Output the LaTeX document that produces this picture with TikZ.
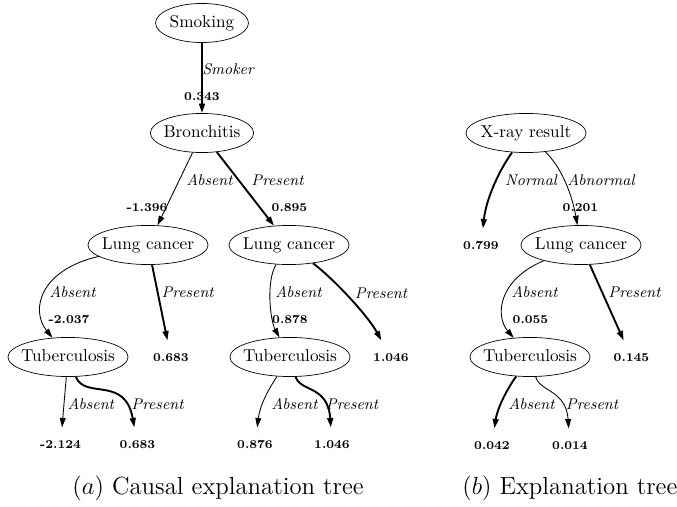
\documentclass[tikz,border=0pt]{standalone}
\usetikzlibrary{arrows.meta,shapes.geometric}

\begin{document}
\begin{tikzpicture}[x=0.581pt, y=-0.581pt,
    var/.style={ellipse, draw, inner xsep=-6pt, inner ysep=0pt, text height=1.5ex, text depth=.25ex, minimum width=69.8pt, minimum height=22.7pt},
    leaf/.style={font=\scriptsize\bfseries, minimum height=20pt, inner sep=1pt},
    val/.style={font=\scriptsize\bfseries, inner sep=1pt},
    lab/.style={font=\small\itshape, inner sep=1pt},
    thinarr/.style={-{Triangle[length=5.5pt,width=3.4pt]}, line width=0.5pt},
    thickarr/.style={thinarr, line width=1.1pt}]
    \useasboundingbox (0,0) rectangle (677,507);

    \node [var, minimum width=54pt] (smk) at (202,23) {Smoking};
    \node [var, minimum width=60pt] (bro) at (202,133) {Bronchitis};
    \node [var] (lcA) at (148,245) {Lung cancer};
    \node [var] (lcP) at (289,245) {Lung cancer};
    \node [var] (tbA) at (68,357) {Tuberculosis};
    \node [var] (tbP) at (290,357) {Tuberculosis};
    \node [leaf] (la1) at (171,358) {0.683};
    \node [leaf] (la2) at (60.5,445) {-2.124};
    \node [leaf] (la3) at (137.5,445) {0.683};
    \node [leaf] (la4) at (391,358) {1.046};
    \node [leaf] (la5) at (255,445) {0.876};
    \node [leaf] (la6) at (332,445) {1.046};

    \node [var] (xr) at (526,133) {X-ray result};
    \node [var] (lcB) at (581,245) {Lung cancer};
    \node [var] (tbB) at (530,357) {Tuberculosis};
    \node [leaf] (lb1) at (481,246) {0.799};
    \node [leaf] (lb2) at (631.5,358) {0.145};
    \node [leaf] (lb3) at (492,446) {0.042};
    \node [leaf] (lb4) at (570,446) {0.014};

    \draw [thickarr] (smk) -- (bro);
    \draw [thinarr] (bro) -- (lcA);
    \draw [thickarr] (bro) -- (lcP);
    \draw [thinarr] (lcA) .. controls (40,270) and (30,310) .. (tbA);
    \draw [thickarr] (lcA) -- (la1);
    \draw [thinarr] (tbA) -- (la2);
    \draw [thickarr] (tbA) .. controls (85,400) and (125,375) .. (la3);
    \draw [thinarr] (lcP) .. controls (266,280) and (270,320) .. (tbP);
    \draw [thickarr] (lcP) .. controls (335,280) and (368,316) .. (la4);
    \draw [thinarr] (tbP) .. controls (268,390) and (260,405) .. (la5);
    \draw [thickarr] (tbP) .. controls (300,392) and (328,385) .. (la6);

    \draw [thickarr] (xr) .. controls (498,172) and (486,200) .. (lb1);
    \draw [thinarr] (xr) .. controls (562,168) and (572,195) .. (lcB);
    \draw [thinarr] (lcB) .. controls (498,280) and (495,316) .. (tbB);
    \draw [thickarr] (lcB) -- (lb2);
    \draw [thickarr] (tbB) .. controls (505,392) and (497,410) .. (lb3);
    \draw [thinarr] (tbB) .. controls (540,392) and (566,390) .. (lb4);

    \node [lab] (e1) at (228,69) {Smoker};
    \node [val] (h1) at (202,97) {0.343};
    \node [lab] (e2) at (209.5,180) {Absent};
    \node [val] (h2) at (147,208) {-1.396};
    \node [lab] (e3) at (277.5,180) {Present};
    \node [val] (h3) at (289.5,208) {0.895};
    \node [lab] (e4) at (72.5,292) {Absent};
    \node [val] (h4) at (69,320) {-2.037};
    \node [lab] (e5) at (187.7,292) {Present};
    \node [lab] (e6) at (90.8,404) {Absent};
    \node [lab] (e7) at (157.5,404) {Present};
    \node [lab] (e8) at (298.5,292) {Absent};
    \node [val] (h8) at (290,320) {0.878};
    \node [lab] (e9) at (381,293) {Present};
    \node [lab] (e10) at (294.5,404) {Absent};
    \node [lab] (e11) at (352,404) {Present};

    \node [lab] (e12) at (531,180) {Normal};
    \node [lab] (e13) at (601,180) {Abnormal};
    \node [val] (h13) at (580.5,208) {0.201};
    \node [lab] (e14) at (534.5,292) {Absent};
    \node [val] (h14) at (530.5,320) {0.055};
    \node [lab] (e15) at (634.5,292) {Present};
    \node [lab] (e16) at (531.5,404) {Absent};
    \node [lab] (e17) at (592,404) {Present};

    \node [anchor=west, inner sep=0pt, font=\Large] (capA) at (72,488) {$(a)$ Causal explanation tree};
    \node [anchor=west, inner sep=0pt, font=\Large] (capB) at (462,488) {$(b)$ Explanation tree};
\end{tikzpicture}
\end{document}
